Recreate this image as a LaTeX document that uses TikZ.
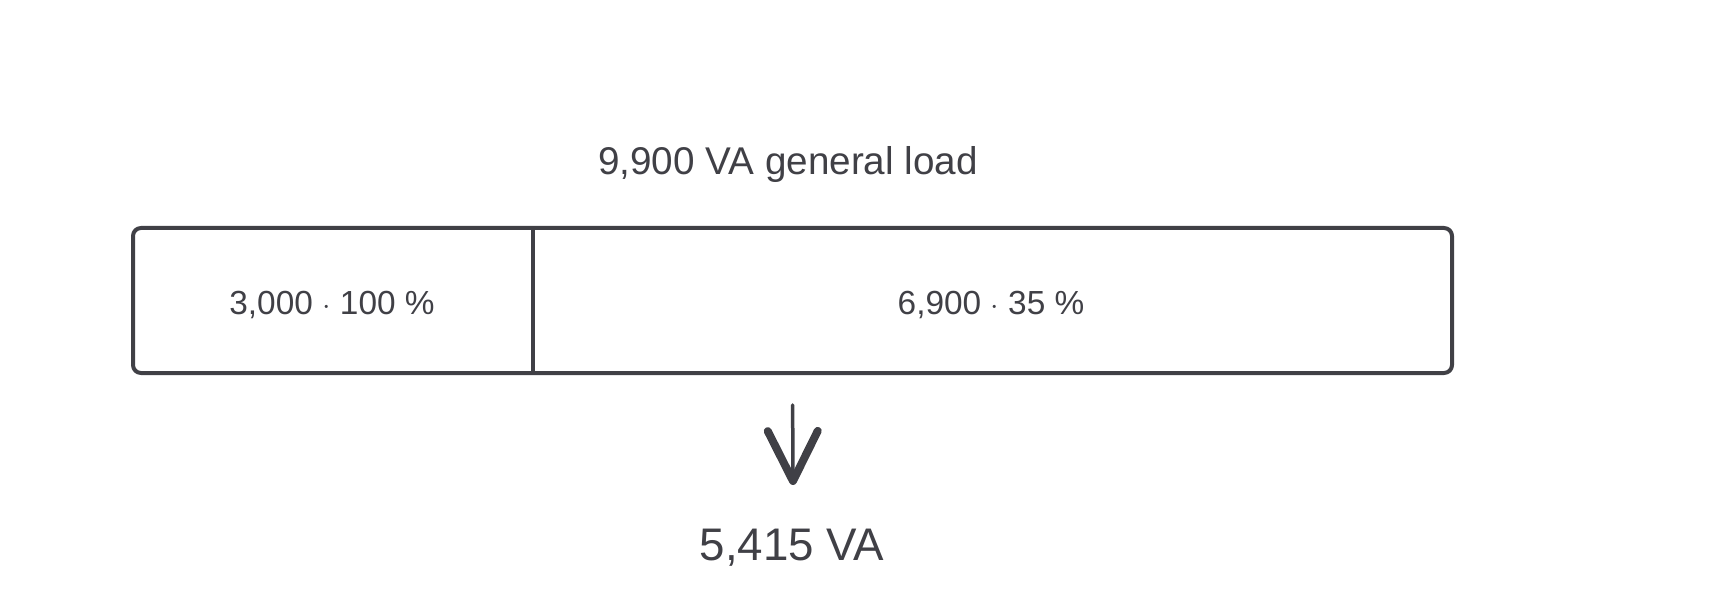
\documentclass[tikz,border=0pt]{standalone}
\usepackage{fontspec}
\setmainfont{Liberation Sans}
\usetikzlibrary{arrows.meta}
\definecolor{ink}{RGB}{64,64,70}
\tikzset{
  stroke/.style={draw=ink, line width=0.08cm, line join=round},
  lbl/.style={text=ink, inner sep=0pt},
  downarrow/.style={draw=ink, line width=0.07cm, line cap=round,
    -{Straight Barb[length=1cm, width=1cm, line width=0.16cm, round]}}
}
\begin{document}
\begin{tikzpicture}
%definitions
\def\cellheight{2.9cm}
\useasboundingbox (0,0) rectangle (34.66,12.26);

\node[stroke, rounded corners=0.16cm, minimum width=26.38cm, minimum height=\cellheight] (load) at (15.85,6.25) {};
\coordinate (splittop) at (10.66,7.7);
\coordinate (splitbottom) at (10.66,4.8);
\draw[stroke] (splittop) -- (splitbottom);

\node[lbl, font=\fontsize{22}{26}\selectfont] (title) at (15.76,8.96) {9,900 VA general load};
\node[lbl, font=\fontsize{19}{23}\selectfont] (first) at (6.64,6.16) {3,000 $\cdot$ 100 \%};
\node[lbl, font=\fontsize{19}{23}\selectfont] (rest) at (19.82,6.16) {6,900 $\cdot$ 35 \%};
\node[lbl, font=\fontsize{26}{30}\selectfont] (result) at (15.84,1.3) {5,415 VA};

\coordinate (tip) at (15.86,2.56);
\draw[downarrow, shorten <=0.6cm] (load.south) -- (tip);
\end{tikzpicture}
\end{document}
